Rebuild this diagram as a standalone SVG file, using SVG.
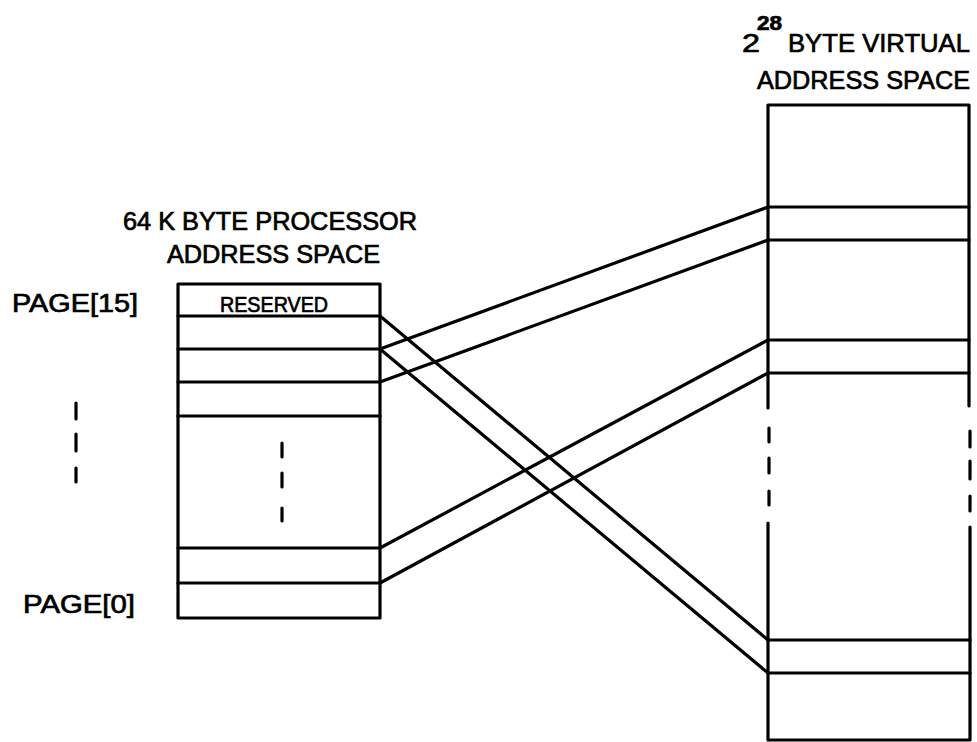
<svg xmlns="http://www.w3.org/2000/svg" width="977" height="742" viewBox="0 0 977 742">
<style>
.ln{fill:none;stroke:#000;stroke-width:3.2;stroke-linecap:round;stroke-linejoin:round}
.t{font-family:"Liberation Sans","DejaVu Sans",sans-serif;fill:#000;stroke:#000;stroke-width:0.7}
</style>
<rect width="977" height="742" fill="#fff"/>
<g id="title-left">
<text class="t" x="123" y="230" font-size="25" textLength="294" lengthAdjust="spacingAndGlyphs">64 K BYTE PROCESSOR</text>
<text class="t" x="167" y="263" font-size="25" textLength="213" lengthAdjust="spacingAndGlyphs">ADDRESS SPACE</text>
</g>
<g id="title-right">
<text class="t" x="742" y="52" font-size="26" textLength="18" lengthAdjust="spacingAndGlyphs">2</text>
<text class="t" x="757" y="30" font-size="20" font-weight="bold" textLength="25" lengthAdjust="spacingAndGlyphs">28</text>
<text class="t" x="788" y="52" font-size="26" textLength="182" lengthAdjust="spacingAndGlyphs">BYTE VIRTUAL</text>
<text class="t" x="757" y="89" font-size="26" textLength="213" lengthAdjust="spacingAndGlyphs">ADDRESS SPACE</text>
</g>
<g id="page-labels">
<text class="t" x="12" y="312" font-size="25" textLength="126" lengthAdjust="spacingAndGlyphs">PAGE[15]</text>
<text class="t" x="23" y="613" font-size="25" textLength="112" lengthAdjust="spacingAndGlyphs">PAGE[0]</text>
<path class="ln" d="M76 403V419M76 434V451M76 468V482"/>
</g>
<g id="processor-space">
<rect class="ln" x="178" y="284" width="202" height="334"/>
<path class="ln" d="M178 316H380M178 349H380M178 382H380M178 416H380M178 548H380M178 583H380"/>
<path class="ln" d="M282 443V457M282 473V487M282 508V521"/>
<text class="t" x="220" y="312" font-size="22" textLength="108" lengthAdjust="spacingAndGlyphs">RESERVED</text>
</g>
<g id="virtual-space">
<path class="ln" d="M768 408V105H969V406"/>
<path class="ln" d="M768 523V740H970V527"/>
<path class="ln" d="M768 207H969M768 240H969M768 340H969M768 373H969M768 640H970M768 673H970"/>
<path class="ln" d="M769 428V442M769 458V473M769 491V505"/>
<path class="ln" d="M970 431V447M970 461V479M970 496V511"/>
</g>
<g id="connectors">
<path class="ln" d="M380 316L768 640"/>
<path class="ln" d="M380 349L768 673"/>
<path class="ln" d="M380 349L768 207"/>
<path class="ln" d="M380 382L768 240"/>
<path class="ln" d="M380 548L768 340"/>
<path class="ln" d="M380 583L768 373"/>
</g>
</svg>
